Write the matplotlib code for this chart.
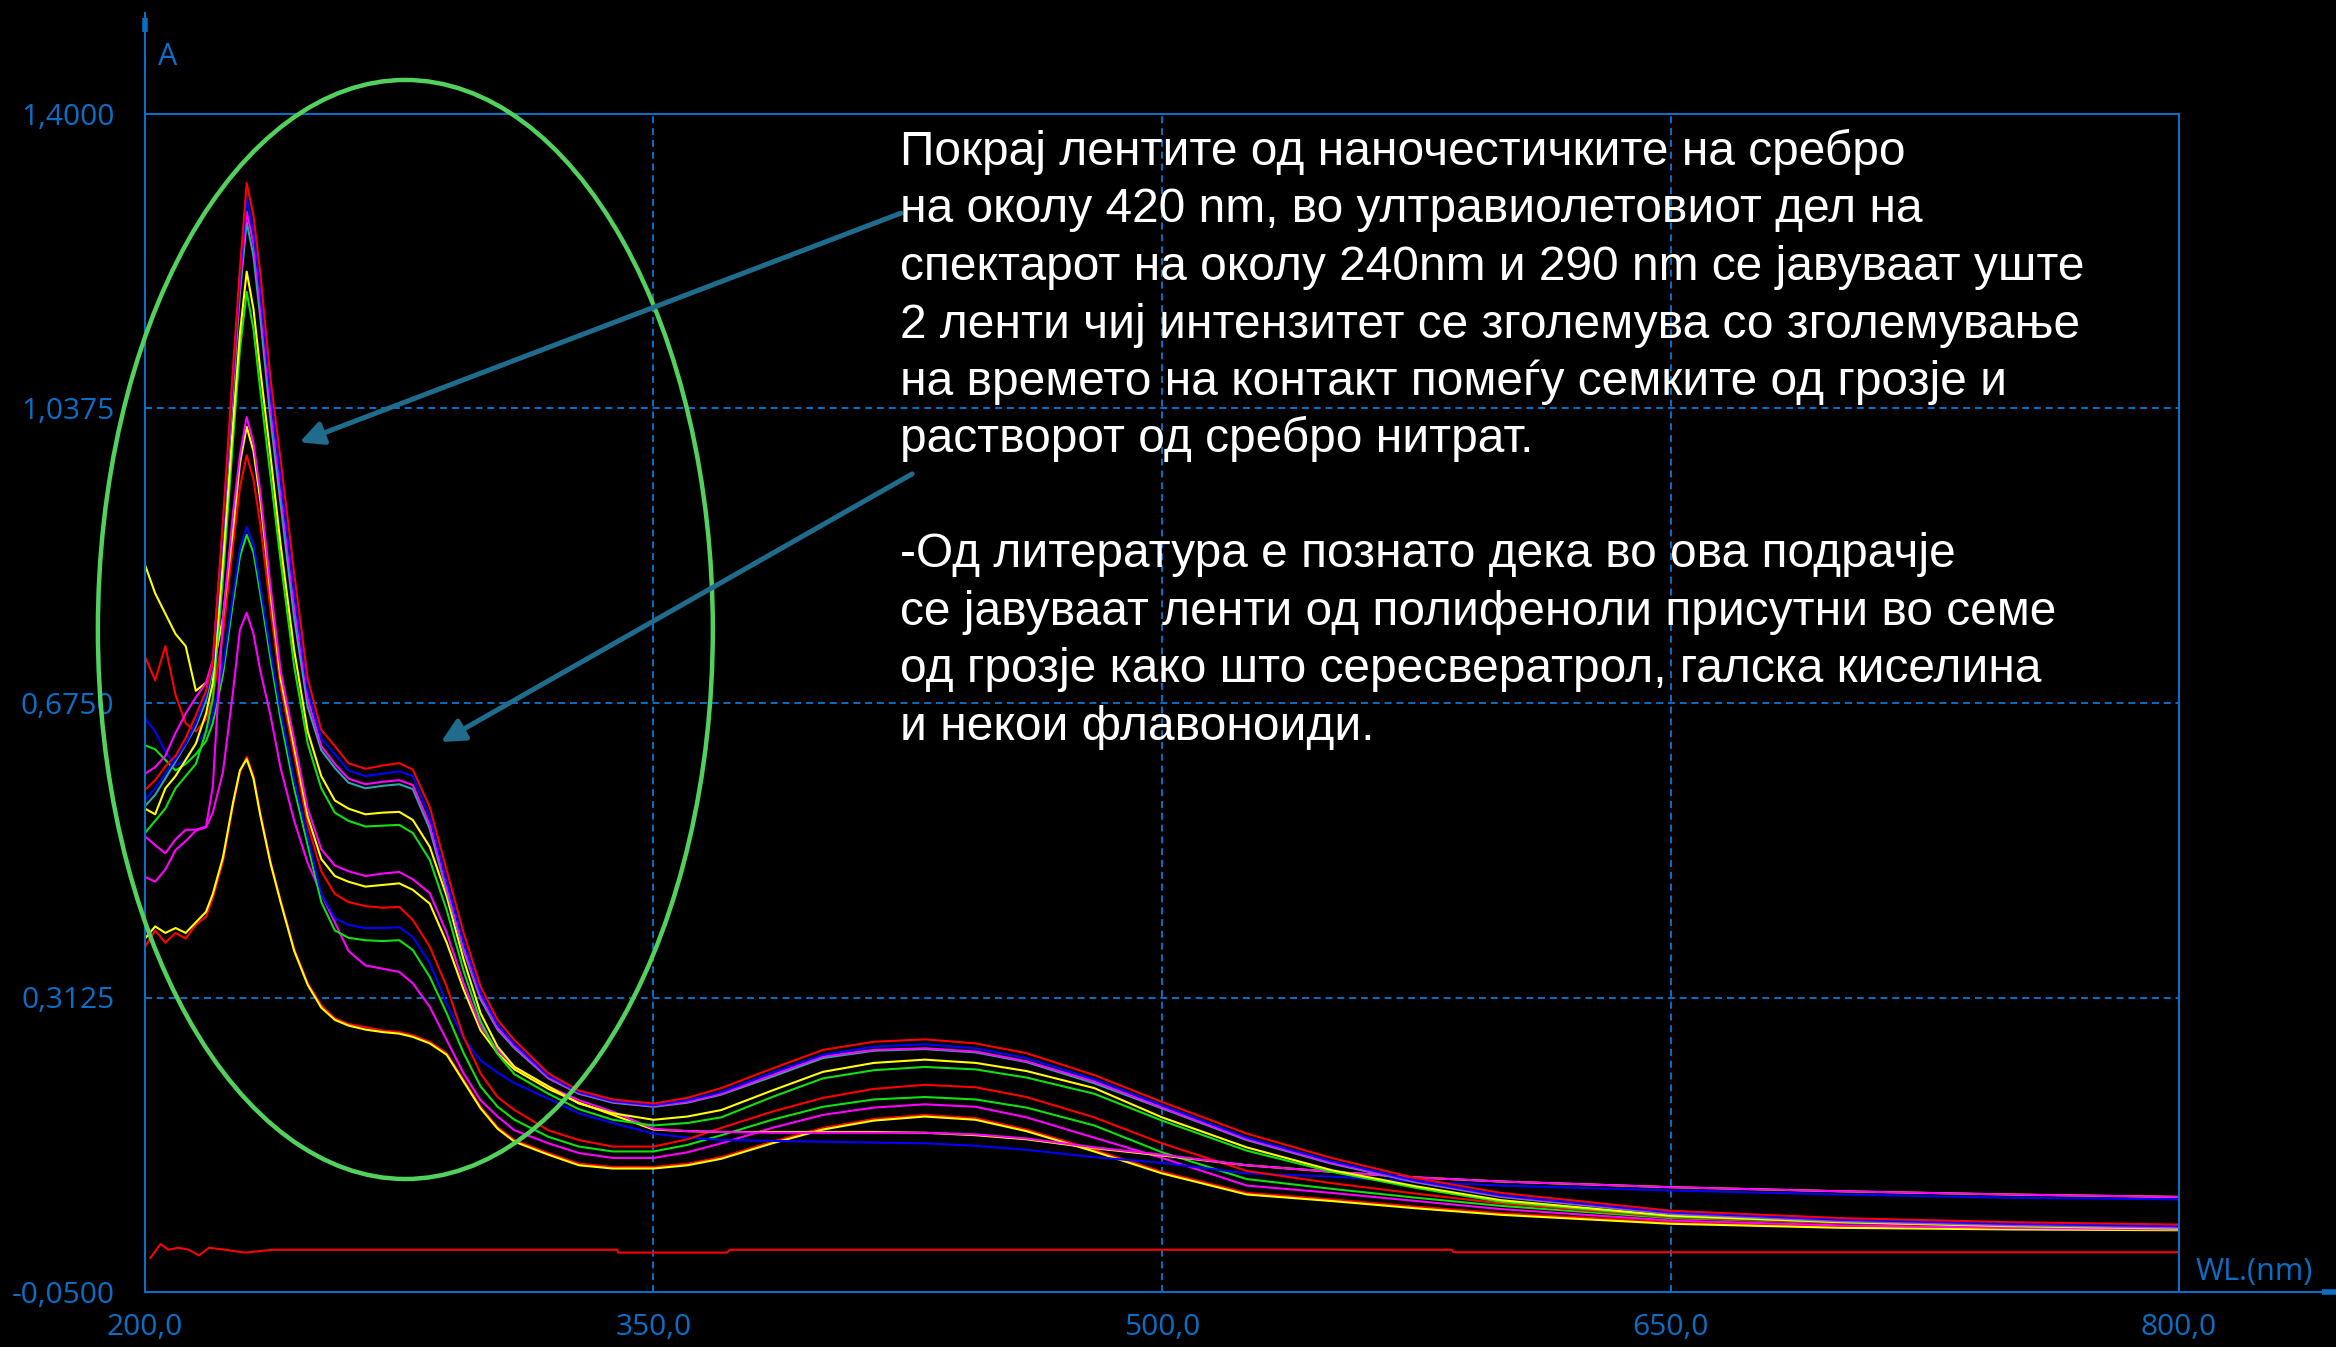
import numpy as np
import matplotlib.pyplot as plt
from matplotlib.patches import Ellipse

plt.rcParams['lines.scale_dashes'] = False

# wavelength grid (nm) shared by the sample spectra
wl = [200, 203, 206, 209, 212, 215, 218, 220, 223, 226, 228, 230, 232, 234, 237,
      240, 244, 248, 252, 256, 260, 265, 270, 275, 279, 284, 289, 294, 299, 304,
      309, 319, 328, 338, 350, 360, 370, 385, 400, 415, 430, 445, 460, 480, 500,
      525, 550, 575, 600, 650, 700, 750, 800]

red1 = [0.568, 0.580, 0.597, 0.610, 0.632, 0.660, 0.690, 0.725, 0.900, 1.090, 1.210, 1.315, 1.275, 1.205, 1.075,
        0.975, 0.835, 0.705, 0.642, 0.622, 0.601, 0.594, 0.598, 0.601, 0.593, 0.547, 0.469, 0.392, 0.326, 0.285,
        0.260, 0.219, 0.198, 0.187, 0.182, 0.189, 0.201, 0.225, 0.248, 0.258, 0.261, 0.256, 0.244, 0.217, 0.184,
        0.145, 0.115, 0.090, 0.072, 0.050, 0.041, 0.036, 0.033]
blue1 = [0.556, 0.570, 0.588, 0.606, 0.625, 0.650, 0.685, 0.722, 0.890, 1.080, 1.200, 1.298, 1.255, 1.180, 1.055,
         0.950, 0.810, 0.690, 0.632, 0.612, 0.592, 0.585, 0.588, 0.591, 0.585, 0.535, 0.455, 0.380, 0.318, 0.279,
         0.255, 0.216, 0.196, 0.185, 0.180, 0.186, 0.196, 0.220, 0.242, 0.252, 0.255, 0.250, 0.238, 0.212, 0.180,
         0.140, 0.111, 0.087, 0.069, 0.048, 0.039, 0.034, 0.031]
magenta1 = [0.588, 0.596, 0.610, 0.638, 0.662, 0.682, 0.700, 0.728, 0.890, 1.070, 1.190, 1.280, 1.240, 1.165, 1.040,
            0.935, 0.795, 0.680, 0.622, 0.600, 0.582, 0.575, 0.578, 0.580, 0.574, 0.525, 0.447, 0.373, 0.313, 0.275,
            0.252, 0.214, 0.195, 0.184, 0.179, 0.184, 0.194, 0.217, 0.240, 0.248, 0.250, 0.246, 0.234, 0.209, 0.177,
            0.138, 0.109, 0.086, 0.068, 0.047, 0.038, 0.033, 0.030]
cyan1 = [0.548, 0.562, 0.582, 0.603, 0.624, 0.646, 0.678, 0.715, 0.880, 1.060, 1.180, 1.267, 1.225, 1.150, 1.025,
         0.920, 0.780, 0.670, 0.617, 0.595, 0.577, 0.570, 0.573, 0.575, 0.569, 0.520, 0.443, 0.370, 0.310, 0.273,
         0.250, 0.213, 0.194, 0.183, 0.178, 0.183, 0.193, 0.215, 0.238, 0.247, 0.249, 0.245, 0.233, 0.207, 0.176,
         0.137, 0.108, 0.085, 0.067, 0.046, 0.037, 0.032, 0.029]
yellow1 = [0.545, 0.538, 0.570, 0.585, 0.605, 0.625, 0.662, 0.700, 0.850, 1.020, 1.130, 1.206, 1.160, 1.085, 0.980,
           0.870, 0.740, 0.640, 0.585, 0.555, 0.545, 0.538, 0.540, 0.541, 0.531, 0.498, 0.437, 0.359, 0.293, 0.252,
           0.227, 0.203, 0.182, 0.170, 0.162, 0.166, 0.174, 0.198, 0.221, 0.232, 0.236, 0.232, 0.222, 0.201, 0.165,
           0.128, 0.100, 0.080, 0.063, 0.044, 0.036, 0.031, 0.028]
green1 = [0.515, 0.530, 0.545, 0.570, 0.585, 0.600, 0.640, 0.680, 0.830, 1.000, 1.110, 1.181, 1.135, 1.060, 0.955,
          0.850, 0.720, 0.625, 0.570, 0.540, 0.530, 0.523, 0.524, 0.525, 0.515, 0.482, 0.420, 0.345, 0.283, 0.243,
          0.218, 0.194, 0.175, 0.162, 0.155, 0.158, 0.165, 0.190, 0.213, 0.223, 0.227, 0.224, 0.214, 0.194, 0.161,
          0.124, 0.098, 0.078, 0.061, 0.043, 0.036, 0.032, 0.031]
magenta2 = [0.511, 0.500, 0.490, 0.507, 0.519, 0.519, 0.523, 0.572, 0.780, 0.910, 0.980, 1.027, 0.995, 0.935, 0.820,
            0.715, 0.630, 0.545, 0.495, 0.475, 0.468, 0.462, 0.465, 0.467, 0.458, 0.441, 0.392, 0.330, 0.277, 0.248,
            0.227, 0.203, 0.186, 0.172, 0.151, 0.148, 0.147, 0.146, 0.146, 0.146, 0.146, 0.144, 0.139, 0.128, 0.119,
            0.106, 0.098, 0.091, 0.086, 0.079, 0.074, 0.070, 0.067]
yellow2 = [0.845, 0.810, 0.785, 0.760, 0.745, 0.690, 0.700, 0.715, 0.780, 0.890, 0.970, 1.015, 0.985, 0.925, 0.810,
           0.705, 0.620, 0.535, 0.483, 0.462, 0.455, 0.449, 0.451, 0.453, 0.445, 0.428, 0.380, 0.322, 0.272, 0.244,
           0.224, 0.200, 0.183, 0.168, 0.150, 0.148, 0.147, 0.147, 0.147, 0.147, 0.146, 0.143, 0.138, 0.127, 0.118,
           0.106, 0.098, 0.091, 0.086, 0.079, 0.074, 0.070, 0.067]
red2 = [0.732, 0.703, 0.745, 0.685, 0.650, 0.640, 0.655, 0.680, 0.760, 0.870, 0.940, 0.980, 0.950, 0.895, 0.790,
        0.695, 0.610, 0.525, 0.468, 0.440, 0.430, 0.425, 0.423, 0.424, 0.408, 0.375, 0.326, 0.264, 0.219, 0.190,
        0.174, 0.149, 0.137, 0.129, 0.129, 0.138, 0.152, 0.172, 0.189, 0.200, 0.205, 0.202, 0.190, 0.165, 0.133,
        0.099, 0.084, 0.071, 0.059, 0.042, 0.035, 0.031, 0.029]
blue2 = [0.656, 0.640, 0.615, 0.598, 0.605, 0.625, 0.640, 0.660, 0.720, 0.810, 0.865, 0.892, 0.870, 0.820, 0.740,
         0.665, 0.580, 0.510, 0.440, 0.410, 0.402, 0.398, 0.398, 0.399, 0.387, 0.355, 0.305, 0.262, 0.235, 0.220,
         0.207, 0.188, 0.170, 0.158, 0.145, 0.140, 0.137, 0.136, 0.135, 0.134, 0.133, 0.130, 0.125, 0.116, 0.109,
         0.096, 0.092, 0.086, 0.081, 0.075, 0.070, 0.066, 0.064]
green2 = [0.623, 0.618, 0.605, 0.592, 0.600, 0.612, 0.628, 0.650, 0.710, 0.800, 0.855, 0.882, 0.860, 0.810, 0.730,
          0.655, 0.570, 0.500, 0.430, 0.395, 0.386, 0.383, 0.382, 0.383, 0.371, 0.338, 0.293, 0.244, 0.203, 0.178,
          0.162, 0.141, 0.129, 0.123, 0.123, 0.131, 0.143, 0.162, 0.178, 0.187, 0.190, 0.187, 0.177, 0.155, 0.122,
          0.089, 0.077, 0.066, 0.056, 0.041, 0.035, 0.032, 0.031]
magenta3 = [0.461, 0.455, 0.470, 0.494, 0.505, 0.518, 0.522, 0.540, 0.590, 0.690, 0.765, 0.786, 0.760, 0.715, 0.660,
            0.595, 0.530, 0.478, 0.440, 0.405, 0.370, 0.352, 0.348, 0.344, 0.330, 0.301, 0.260, 0.219, 0.186, 0.166,
            0.149, 0.133, 0.121, 0.115, 0.115, 0.122, 0.133, 0.152, 0.168, 0.177, 0.181, 0.178, 0.165, 0.140, 0.115,
            0.081, 0.072, 0.062, 0.052, 0.038, 0.032, 0.029, 0.027]
red3 = [0.375, 0.395, 0.380, 0.392, 0.385, 0.402, 0.412, 0.435, 0.480, 0.550, 0.590, 0.609, 0.585, 0.540, 0.480,
        0.432, 0.372, 0.330, 0.303, 0.287, 0.280, 0.276, 0.272, 0.270, 0.266, 0.258, 0.244, 0.211, 0.178, 0.153,
        0.137, 0.121, 0.108, 0.104, 0.104, 0.108, 0.116, 0.135, 0.152, 0.163, 0.168, 0.164, 0.150, 0.125, 0.098,
        0.072, 0.064, 0.055, 0.047, 0.036, 0.031, 0.029, 0.028]
yellow3 = [0.385, 0.400, 0.392, 0.398, 0.392, 0.405, 0.418, 0.440, 0.485, 0.553, 0.592, 0.606, 0.582, 0.537, 0.478,
           0.430, 0.370, 0.328, 0.300, 0.285, 0.278, 0.273, 0.270, 0.268, 0.264, 0.256, 0.242, 0.209, 0.176, 0.151,
           0.135, 0.119, 0.106, 0.102, 0.102, 0.106, 0.114, 0.133, 0.150, 0.161, 0.166, 0.162, 0.148, 0.123, 0.096,
           0.070, 0.062, 0.053, 0.045, 0.034, 0.029, 0.027, 0.026]

# blank / reference trace
base_wl = [201.6, 204.6, 206.9, 209.9, 212.9, 215.9, 218.9, 223.5, 229.5, 237.8,
           339.3, 339.6, 371.7, 372.5, 585.5, 586.0, 800.0]
base_abs = [-0.008, 0.009, 0.002, 0.0045, 0.002, -0.005, 0.0045, 0.002, -0.0015, 0.002,
            0.002, -0.0015, -0.0015, 0.002, 0.002, -0.001, -0.001]

x_ticks = [200, 350, 500, 650, 800]
x_labels = ['200,0', '350,0', '500,0', '650,0', '800,0']
y_ticks = [-0.05, 0.3125, 0.675, 1.0375, 1.4]
y_labels = ['-0,0500', '0,3125', '0,6750', '1,0375', '1,4000']

note = ['Покрај лентите од наночестичките на сребро',
        'на околу 420 nm, во ултравиолетовиот дел на',
        'спектарот на околу 240nm и 290 nm се јавуваат уште',
        '2 ленти чиј интензитет се зголемува со зголемување',
        'на времето на контакт помеѓу семките од грозје и',
        'растворот од сребро нитрат.',
        '',
        '-Од литература е познато дека во ова подрачје',
        'се јавуваат ленти од полифеноли присутни во семе',
        'од грозје како што сересвератрол, галска киселина',
        'и некои флавоноиди.']

axis_blue = '#0A6EC4'
W, H = 2336, 1347

fig = plt.figure(figsize=(W / 100, H / 100), dpi=100, facecolor='black')
ax = fig.add_axes([145 / W, 1 - 1292 / H, 2034 / W, 1178 / H])
ax.set_facecolor('black')
ax.set_xlim(200, 800)
ax.set_ylim(-0.05, 1.4)

for s in ax.spines.values():
    s.set_color(axis_blue)
    s.set_linewidth(1.5)

ax.set_xticks(x_ticks)
ax.set_xticklabels(x_labels)
ax.set_yticks(y_ticks)
ax.set_yticklabels(y_labels)
ax.tick_params(length=0, colors=axis_blue, labelsize=21.5)
ax.tick_params(axis='x', pad=15)
ax.tick_params(axis='y', pad=22)
for lab in ax.get_xticklabels() + ax.get_yticklabels():
    lab.set_family('Open Sans')

ax.grid(True, color=axis_blue, lw=1.4, ls=(0, (5, 3.5)))
ax.set_axisbelow(True)

# spine extensions with small arrow ends
ax.plot([0, 0], [1, (1292 - 13) / 1178], color=axis_blue, lw=1.5, transform=ax.transAxes, clip_on=False)
ax.plot([0, 0], [(1292 - 32) / 1178, (1292 - 18) / 1178], color=axis_blue, lw=4,
        transform=ax.transAxes, clip_on=False, solid_capstyle='butt')
ax.plot([1, (2336 - 145) / 2034], [0, 0], color=axis_blue, lw=1.5, transform=ax.transAxes, clip_on=False)
ax.plot([(2322 - 145) / 2034, (2336 - 145) / 2034], [0, 0], color=axis_blue, lw=4,
        transform=ax.transAxes, clip_on=False, solid_capstyle='butt')

lw = 1.5
ax.plot(base_wl, base_abs, color='#FF0000', lw=lw)
spectra = [(red3, '#FF0000'), (yellow3, '#FFFF00'), (magenta3, '#FF00FF'),
           (green2, '#10E010'), (blue2, '#0000FF'), (red2, '#FF0000'),
           (yellow2, '#FFFF00'), (magenta2, '#FF00FF'), (green1, '#10E010'),
           (yellow1, '#FFFF00'), (cyan1, '#2AA8A8'), (magenta1, '#FF00FF'),
           (blue1, '#0000FF'), (red1, '#FF0000')]
for vals, c in spectra:
    ax.plot(wl, vals, color=c, lw=lw)

ax.add_patch(Ellipse((276.8, 0.7655), 181.4, 1.3528, fill=False,
                     edgecolor='#52D15C', lw=3.2, clip_on=False, zorder=5))

arrow_c = '#1F6C8C'
for tail, tip in [((423.0, 1.278), (245.6, 0.996)), ((426.3, 0.957), (287.3, 0.627))]:
    ax.annotate('', xy=tip, xytext=tail,
                arrowprops=dict(arrowstyle='-|>,head_length=0.7,head_width=0.35',
                                color=arrow_c, lw=3.6, shrinkA=0, shrinkB=0,
                                mutation_scale=20), zorder=6)

fig.text(168 / W, 1 - 57 / H, 'A', color=axis_blue, fontsize=22,
         family='Open Sans', ha='center', va='center')
fig.text(2254 / W, 1 - 1272 / H, 'WL.(nm)', color=axis_blue, fontsize=22,
         family='Open Sans', ha='center', va='center')

for i, line in enumerate(note):
    fig.text(900 / W, 1 - (165 + 57.5 * i) / H, line, color='white',
             fontsize=34.5, family='Liberation Sans', ha='left', va='baseline')

fig.savefig('out.png', dpi=100, facecolor='black')
